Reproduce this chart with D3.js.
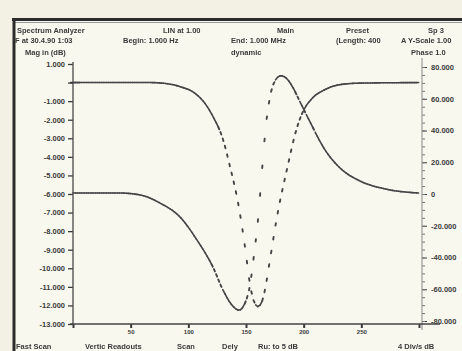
<!DOCTYPE html>
<html>
<head>
<meta charset="utf-8">
<script src="https://cdn.jsdelivr.net/npm/d3@7"></script>
<style>
  html, body { margin: 0; padding: 0; background: #f3f1e3; overflow: hidden; }
  svg { display: block; filter: blur(0.55px); }
  text { font-family: "Liberation Sans", Arial, sans-serif; font-weight: bold; font-size: 7.5px; fill: #3a3a3a; -webkit-font-smoothing: antialiased; }
</style>
</head>
<body>
<script>
'use strict';

// bottom axis: sweep frequency (kHz)
const freqTicks = [0, 50, 100, 150, 200, 250, 300];
const freqTickLabels = ['', '50', '100', '150', '200', '250', ''];

// left axis: magnitude (dB)
const magTicks = [1, 0, -1, -2, -3, -4, -5, -6, -7, -8, -9, -10, -11, -12, -13];
const magTickLabels = ['1.000', '', '-1.000', '-2.000', '-3.000', '-4.000', '-5.000', '-6.000',
  '-7.000', '-8.000', '-9.000', '-10.000', '-11.000', '-12.000', '-13.000'];

// right axis: phase (deg)
const phaseTicks = [80, 60, 40, 20, 0, -20, -40, -60, -80];
const phaseTickLabels = ['80.000', '60.000', '40.000', '20.000', '0', '-20.000', '-40.000', '-60.000', '-80.000'];

// trace 1: magnitude
const magFreq = [0, 67, 80, 93, 106, 114.5, 121.4, 130.1, 136.1, 143.1, 149.1, 153.5, 156.9, 160.4,
  163.9, 166.5, 170.8, 176.9, 185.5, 194.2, 199.4, 207.2, 218.5, 231.5, 248.8, 300];
const magDb = [0, 0, -0.05, -0.22, -0.59, -1.13, -1.83, -3.07, -4.52, -6.46, -8.83, -10.88, -11.79, -12.06,
  -11.79, -11.15, -9.53, -7.22, -4.68, -2.42, -1.56, -0.86, -0.38, -0.11, -0.03, 0];

// trace 2: phase
const phaseFreq = [0, 40.8, 58.1, 75.4, 92.8, 107.5, 121.4, 130.1, 138.7, 143.9, 149.1, 153.5, 156.9, 160.4,
  163.9, 167.3, 170.8, 175.1, 180.3, 185.5, 190.8, 196.8, 205.5, 218.5, 231.5, 248.8, 270.5, 300];
const phaseDeg = [0.6, 0.6, -0.6, -5.7, -14.5, -29.0, -46.1, -60.6, -70.7, -73.2, -68.8, -57.4, -38.5, -16.4,
  15.1, 43.5, 61.2, 71.3, 74.5, 72.6, 66.9, 58.1, 45.4, 27.8, 16.4, 8.2, 3.2, 0.6];

// header / footer readouts
const headerRow1 = ['Spectrum Analyzer', 'LIN at 1.00', 'Main', 'Preset', 'Sp 3'];
const headerRow2 = ['F at 30.4.90 1:03', 'Begin: 1.000 Hz', 'End: 1.000 MHz', '(Length: 400', 'A Y-Scale 1.00'];
const headerRow3 = ['Mag in (dB)', 'dynamic', 'Phase 1.0'];
const footerRow = ['Fast Scan', 'Vertic Readouts', 'Scan', 'Dely', 'Ru: to 5 dB', '4 Div/s dB'];

let svg = '';

window.onload = function() {
  svg = d3.select('body').append('svg')
    .attr('width', 462)
    .attr('height', 351);

  // paper inside the frame
  svg.append('rect')
    .attr('x', 14).attr('y', 19)
    .attr('width', 448).attr('height', 332)
    .attr('fill', '#f9f8ef');

  let scales = drawAxes();
  drawTrace(magFreq, magDb, scales.x, scales.yMag);
  drawTrace(phaseFreq, phaseDeg, scales.x, scales.yPhase);
  drawFrame();
  drawReadouts();
};

function drawAxes() {
  let x = d3.scaleLinear().domain([0, 300]).range([73, 419]);
  let yMag = d3.scaleLinear().domain([1, -13]).range([64, 324]);
  let yPhase = d3.scaleLinear().domain([80, -80]).range([67, 321]);

  let left = svg.append('g')
    .attr('transform', 'translate(73,0)')
    .style('color', '#3a3a3a')
    .call(d3.axisLeft(yMag).tickValues(magTicks)
      .tickFormat((d, i) => magTickLabels[i]).tickSize(5).tickSizeOuter(0));
  left.select('.domain').remove();
  left.selectAll('line').attr('stroke-width', 1.3);
  left.selectAll('text').attr('x', -8).style('fill', '#3a3a3a');

  svg.append('line')
    .attr('x1', 73).attr('x2', 73).attr('y1', 62).attr('y2', 325)
    .attr('stroke', '#555').attr('stroke-width', 1.4);
  // small cross at the reference level
  svg.append('line')
    .attr('x1', 70).attr('x2', 80).attr('y1', yMag(0)).attr('y2', yMag(0))
    .attr('stroke', '#333').attr('stroke-width', 1.5);

  let right = svg.append('g')
    .attr('transform', 'translate(422,0)')
    .style('color', '#3a3a3a')
    .call(d3.axisRight(yPhase).tickValues(phaseTicks)
      .tickFormat((d, i) => phaseTickLabels[i]).tickSize(5).tickSizeOuter(0));
  right.select('.domain').remove();
  right.selectAll('text').attr('x', 9).style('fill', '#3a3a3a');

  // minor ticks on phase axis
  let minor = svg.append('g')
    .attr('transform', 'translate(422,0)')
    .style('color', '#777')
    .call(d3.axisRight(yPhase).tickValues(d3.range(-80, 81, 5)).tickFormat('').tickSize(3).tickSizeOuter(0));
  minor.select('.domain').remove();

  svg.append('line')
    .attr('x1', 422).attr('x2', 422).attr('y1', 58).attr('y2', 330)
    .attr('stroke', '#888').attr('stroke-width', 1);

  let bottom = svg.append('g')
    .attr('transform', 'translate(0,324)')
    .style('color', '#3a3a3a')
    .call(d3.axisBottom(x).tickValues(freqTicks)
      .tickFormat((d, i) => freqTickLabels[i]).tickSize(4).tickSizeOuter(0));
  bottom.select('.domain').remove();
  bottom.selectAll('line').attr('stroke-width', 2);
  bottom.selectAll('text').attr('y', 6).style('font-size', '6px').style('fill', '#3a3a3a');

  svg.append('line')
    .attr('x1', 70).attr('x2', 440).attr('y1', 324).attr('y2', 324)
    .attr('stroke', '#444').attr('stroke-width', 1.5);

  return { x: x, yMag: yMag, yPhase: yPhase };
}

// draw a trace as the analyser does: points on a fixed sweep step,
// joined where they are close, loose dots where the trace is steep
function drawTrace(freqs, vals, x, y) {
  let pts = freqs.map((f, i) => [x(f), y(vals[i])]);
  let line = d3.line().curve(d3.curveMonotoneX);
  let tmp = svg.append('path').attr('d', line(pts)).attr('fill', 'none');
  let node = tmp.node();
  let len = node.getTotalLength();

  let step = 2.2;
  let samples = [];
  let nextX = pts[0][0];
  for (let s = 0; s <= len; s += 0.4) {
    let p = node.getPointAtLength(s);
    if (p.x >= nextX) {
      samples.push([p.x, p.y]);
      nextX += step;
    }
  }
  tmp.remove();

  let g = svg.append('g')
    .attr('stroke', '#454545')
    .attr('stroke-linecap', 'round')
    .attr('fill', 'none');

  for (let i = 0; i < samples.length - 1; i++) {
    let a = samples[i], b = samples[i + 1];
    let dx = b[0] - a[0], dy = b[1] - a[1];
    let d = Math.sqrt(dx * dx + dy * dy);
    let k = d < 5 ? 1 : 2.6 / d;
    g.append('line')
      .attr('x1', a[0]).attr('y1', a[1])
      .attr('x2', a[0] + dx * k).attr('y2', a[1] + dy * k)
      .attr('stroke-width', d < 5 ? 1.6 : 1.9);
  }
}

function drawFrame() {
  svg.append('line')
    .attr('x1', 12).attr('x2', 462).attr('y1', 19.5).attr('y2', 19.5)
    .attr('stroke', '#2c2c2c').attr('stroke-width', 3);
  svg.append('line')
    .attr('x1', 14).attr('x2', 462).attr('y1', 22.5).attr('y2', 22.5)
    .attr('stroke', '#9a9a9a').attr('stroke-width', 1);
  svg.append('line')
    .attr('x1', 14).attr('x2', 14).attr('y1', 18).attr('y2', 351)
    .attr('stroke', '#2c2c2c').attr('stroke-width', 3);
}

function drawReadouts() {
  let row1X = [17, 163, 277, 346, 428];
  let row2X = [15, 123, 231, 336, 401];
  let row3X = [25, 231, 411];
  let footX = [16, 85, 177, 222, 258, 398];

  headerRow1.forEach((t, i) => svg.append('text').attr('x', row1X[i]).attr('y', 33).text(t));
  headerRow2.forEach((t, i) => svg.append('text').attr('x', row2X[i]).attr('y', 43).text(t));
  headerRow3.forEach((t, i) => svg.append('text').attr('x', row3X[i]).attr('y', 55).text(t));
  footerRow.forEach((t, i) => svg.append('text').attr('x', footX[i]).attr('y', 349).text(t));
}
</script>
</body>
</html>
